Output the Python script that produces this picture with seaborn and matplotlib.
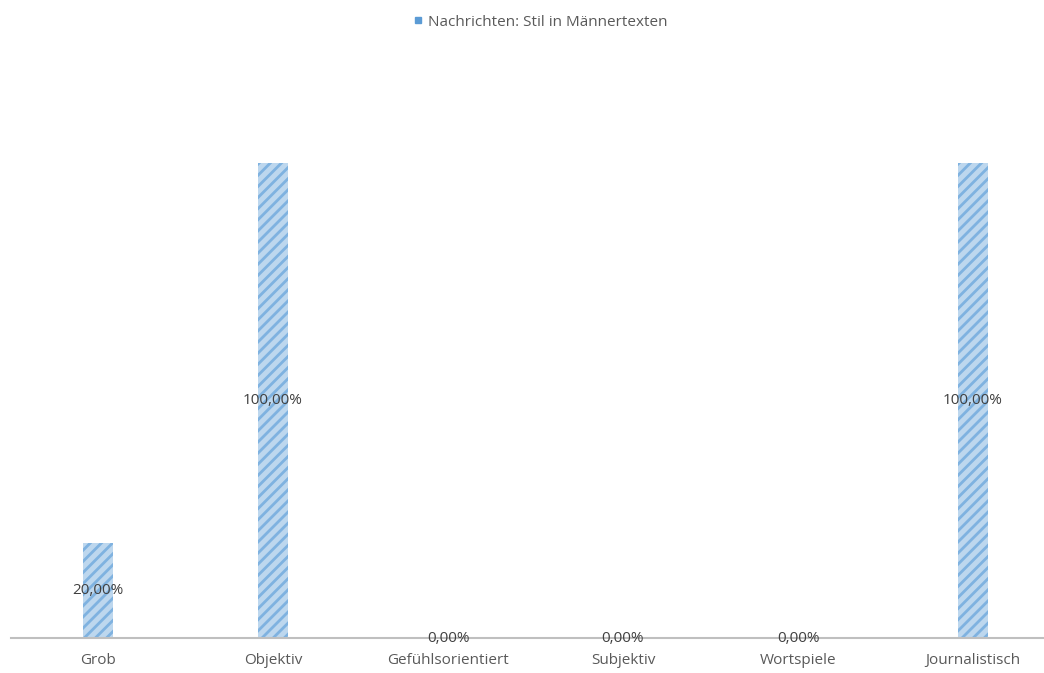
import matplotlib
matplotlib.use("Agg")
import matplotlib.pyplot as plt
import seaborn as sns
import pandas as pd
from matplotlib.lines import Line2D

categories = ["Grob", "Objektiv", "Gefühlsorientiert", "Subjektiv", "Wortspiele", "Journalistisch"]
values = [0.20, 1.00, 0.00, 0.00, 0.00, 1.00]
series_name = "Nachrichten: Stil in Männertexten"

sns.set_theme(style="white")
plt.rcParams['font.family'] = ['Open Sans', 'DejaVu Sans']
plt.rcParams['hatch.linewidth'] = 2.0

df = pd.DataFrame({"cat": categories, "val": values})

fig = plt.figure(figsize=(10.44, 6.73), dpi=100)
ax = fig.add_axes([10.5 / 1044, 1 - 638 / 673, 1050 / 1044, (638 - 163) / 673])

sns.barplot(data=df, x="cat", y="val", color="#BDD7EE", width=0.17, ax=ax,
            saturation=1, linewidth=0)
for p in ax.patches:
    p.set_hatch("///")
    p.set_edgecolor("#7FB2E0")
    p.set_linewidth(0)

ax.set_ylim(0, 1)
ax.set_xlim(-0.5, 5.5)
ax.set_xlabel("")
ax.set_ylabel("")
ax.set_yticks([])
for s in ["top", "right", "left"]:
    ax.spines[s].set_visible(False)
ax.spines["bottom"].set_color("#BFBFBF")
ax.spines["bottom"].set_linewidth(1.5)
ax.tick_params(axis="x", length=0, pad=11, labelsize=11, colors="#595959")

for i, v in enumerate(values):
    label = f"{v*100:.2f}".replace(".", ",") + "%"
    ax.text(i, v / 2, label, ha="center", va="center", fontsize=11, color="#404040")

handle = Line2D([], [], marker="s", linestyle="none", markersize=4,
                markerfacecolor="#5B9BD5", markeredgecolor="#5B9BD5")
fig.legend([handle], [series_name], loc="center", bbox_to_anchor=(0.517, 1 - 22 / 673),
           frameon=False, fontsize=11, labelcolor="#595959", handletextpad=0.3,
           handlelength=0.8)

fig.savefig("out.png", dpi=100)
